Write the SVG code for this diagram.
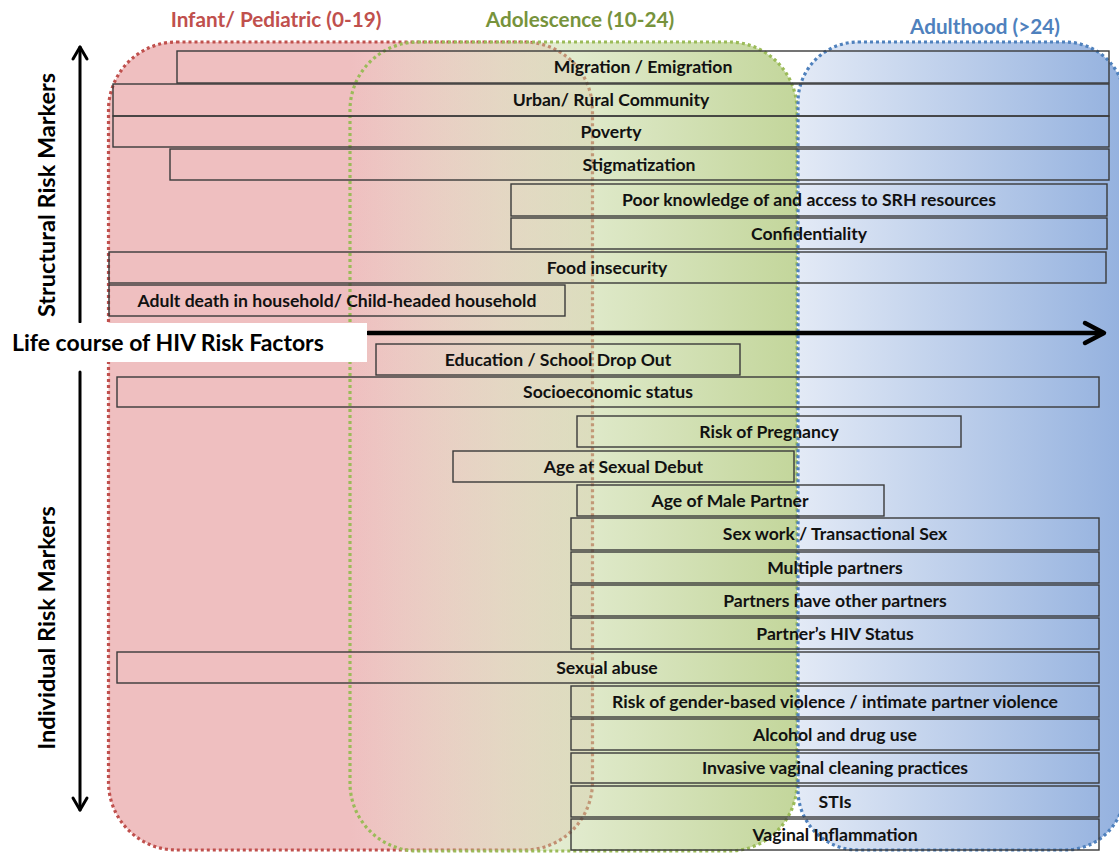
<svg xmlns="http://www.w3.org/2000/svg" width="1119" height="853" viewBox="0 0 1119 853">
<defs>
<linearGradient id="gRed" x1="108" y1="0" x2="592" y2="0" gradientUnits="userSpaceOnUse">
<stop offset="0" stop-color="#EFBFC0" stop-opacity="1"/>
<stop offset="0.5" stop-color="#EFBFC0" stop-opacity="1"/>
<stop offset="1" stop-color="#EFBFC0" stop-opacity="0.4"/>
</linearGradient>
<linearGradient id="gGreen" x1="350" y1="0" x2="797" y2="0" gradientUnits="userSpaceOnUse">
<stop offset="0" stop-color="#C3D69B" stop-opacity="0"/>
<stop offset="1" stop-color="#C3D69B" stop-opacity="1"/>
</linearGradient>
<linearGradient id="gBlue" x1="798" y1="0" x2="1119" y2="0" gradientUnits="userSpaceOnUse">
<stop offset="0" stop-color="#E3EAF6"/>
<stop offset="1" stop-color="#95B2DF"/>
</linearGradient>
<style>
.bar{fill:none;stroke:#3a3a3a;stroke-width:1.4}
.t{font-family:Lato,"Liberation Sans",sans-serif;font-weight:bold;font-size:17.6px;fill:#111;text-anchor:middle}
.hd{font-family:Lato,"Liberation Sans",sans-serif;font-weight:bold;font-size:20.7px;text-anchor:middle}
.ax{font-family:Lato,"Liberation Sans",sans-serif;font-weight:bold;font-size:23.5px;fill:#000;text-anchor:middle}
.dot{stroke-width:3.2;stroke-dasharray:3 3}
.axl{stroke:#000;fill:none;stroke-linecap:round;stroke-linejoin:round}
</style>
</defs>
<rect width="1119" height="853" fill="#fff"/>

<g id="region-infant">
<rect x="108.5" y="42" width="484" height="808" rx="68" fill="url(#gRed)" stroke="#C0504D" class="dot"/>
<text class="hd" x="276" y="27" fill="#C0504D">Infant/ Pediatric (0-19)</text>
</g>
<g id="region-adolescence">
<rect x="350" y="42" width="447" height="809" rx="68" fill="url(#gGreen)" stroke="#9BBB59" class="dot"/>
<text class="hd" x="580" y="27" fill="#77933C">Adolescence (10-24)</text>
</g>
<g id="region-adulthood">
<rect x="798" y="42" width="327" height="808" rx="60" fill="url(#gBlue)" stroke="#4F81BD" class="dot"/>
<text class="hd" x="985" y="34" fill="#4F81BD">Adulthood (&gt;24)</text>
</g>

<g id="bar-migration"><rect class="bar" x="177" y="51" width="932" height="32"/><text class="t" x="643" y="73">Migration / Emigration</text></g>
<g id="bar-urban"><rect class="bar" x="113" y="84" width="996" height="32"/><text class="t" x="611" y="106">Urban/ Rural Community</text></g>
<g id="bar-poverty"><rect class="bar" x="113" y="116" width="996" height="31"/><text class="t" x="611" y="137.5">Poverty</text></g>
<g id="bar-stigma"><rect class="bar" x="170" y="149" width="939" height="31"/><text class="t" x="639" y="170.5">Stigmatization</text></g>
<g id="bar-srh"><rect class="bar" x="511" y="184" width="596" height="32"/><text class="t" x="809" y="206">Poor knowledge of and access to SRH resources</text></g>
<g id="bar-confidentiality"><rect class="bar" x="511" y="218" width="596" height="31"/><text class="t" x="809" y="239.5">Confidentiality</text></g>
<g id="bar-food"><rect class="bar" x="109" y="252" width="997" height="31"/><text class="t" x="607" y="273.5">Food insecurity</text></g>
<g id="bar-adultdeath"><rect class="bar" x="109" y="285" width="456" height="31"/><text class="t" x="337" y="306.5">Adult death in household/ Child-headed household</text></g>
<g id="bar-education"><rect class="bar" x="376" y="344" width="364" height="31"/><text class="t" x="558" y="365.5">Education / School Drop Out</text></g>
<g id="bar-ses"><rect class="bar" x="117" y="377" width="982" height="30"/><text class="t" x="608" y="398">Socioeconomic status</text></g>
<g id="bar-pregnancy"><rect class="bar" x="577" y="416" width="384" height="31"/><text class="t" x="769" y="437.5">Risk of Pregnancy</text></g>
<g id="bar-debut"><rect class="bar" x="453" y="451" width="341" height="31"/><text class="t" x="623.5" y="472.5">Age at Sexual Debut</text></g>
<g id="bar-malepartner"><rect class="bar" x="577" y="485" width="307" height="31"/><text class="t" x="730" y="506.5">Age of Male Partner</text></g>
<g id="bar-sexwork"><rect class="bar" x="571" y="518" width="528" height="32"/><text class="t" x="835" y="540">Sex work / Transactional Sex</text></g>
<g id="bar-multiple"><rect class="bar" x="571" y="552" width="528" height="31"/><text class="t" x="835" y="573.5">Multiple partners</text></g>
<g id="bar-otherpartners"><rect class="bar" x="571" y="585" width="528" height="31"/><text class="t" x="835" y="606.5">Partners have other partners</text></g>
<g id="bar-hivstatus"><rect class="bar" x="571" y="618" width="528" height="31"/><text class="t" x="835" y="639.5">Partner’s HIV Status</text></g>
<g id="bar-abuse"><rect class="bar" x="117" y="652" width="982" height="31"/><text class="t" x="607" y="673.5">Sexual abuse</text></g>
<g id="bar-gbv"><rect class="bar" x="571" y="686" width="528" height="31"/><text class="t" x="835" y="707.5">Risk of gender-based violence / intimate partner violence</text></g>
<g id="bar-alcohol"><rect class="bar" x="571" y="719" width="528" height="31"/><text class="t" x="835" y="740.5">Alcohol and drug use</text></g>
<g id="bar-vaginal"><rect class="bar" x="571" y="753" width="528" height="30"/><text class="t" x="835" y="774">Invasive vaginal cleaning practices</text></g>
<g id="bar-stis"><rect class="bar" x="571" y="786" width="528" height="31"/><text class="t" x="835" y="807.5">STIs</text></g>
<g id="bar-inflammation"><rect class="bar" x="571" y="819" width="528" height="31"/><text class="t" x="835" y="840.5">Vaginal Inflammation</text></g>

<g id="connectors">
<line class="axl" x1="368" y1="333" x2="1103" y2="333" stroke-width="4.5"/>
<polyline class="axl" points="1085,323 1104,333 1085,343" stroke-width="4.5"/>
<line class="axl" x1="80" y1="47" x2="80" y2="322" stroke-width="3"/>
<polyline class="axl" points="73,59 80,47 87,59" stroke-width="3"/>
<line class="axl" x1="80" y1="372" x2="80" y2="810" stroke-width="3"/>
<polyline class="axl" points="73,798 80,810 87,798" stroke-width="3"/>
</g>

<g id="title">
<rect x="0" y="323" width="367" height="39" fill="#fff"/>
<text class="ax" x="12" y="351" style="text-anchor:start;font-size:23px">Life course of HIV Risk Factors</text>
</g>
<g id="axis-labels">
<text class="ax" transform="translate(55,195) rotate(-90)">Structural Risk Markers</text>
<text class="ax" transform="translate(55,628) rotate(-90)">Individual Risk Markers</text>
</g>
</svg>
